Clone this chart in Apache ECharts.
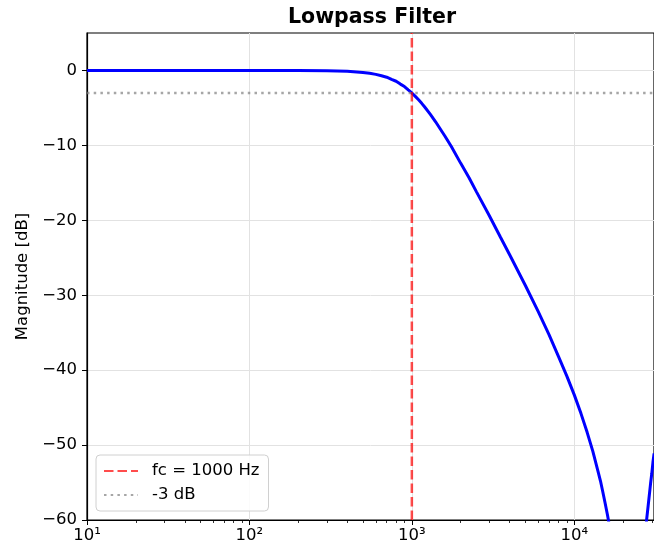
<!DOCTYPE html>
<html>
<head>
<meta charset="utf-8">
<script src="https://cdn.jsdelivr.net/npm/echarts@6/dist/echarts.min.js"></script>
<style>
html,body{margin:0;padding:0;background:#fff;}
#chart{width:654px;height:551px;}
</style>
</head>
<body>
<div id="chart"></div>
<script>
// ---- data ----
const freqHz = [10, 50, 100, 200, 300, 400, 500, 550, 600, 650, 700, 750, 800, 850, 900, 950, 1000, 1050, 1100, 1150, 1200, 1300, 1400, 1500, 1600, 1750, 2000, 2250, 2500, 3000, 3500, 4000, 5000, 6000, 7000, 8000, 9000, 10000, 11000, 12000, 13000, 14000, 14500, 15000, 15500, 16000, 16250, 16500, 17000, 18000, 27000, 28000, 28500, 29000, 29500, 30000, 30500, 31000];
const magDb  = [0, 0, 0, -0.01, -0.03, -0.11, -0.26, -0.38, -0.52, -0.71, -0.9, -1.19, -1.44, -1.82, -2.15, -2.59, -3.0, -3.46, -3.92, -4.39, -4.88, -5.86, -6.85, -7.85, -8.78, -10.16, -12.4, -14.33, -16.2, -19.4, -22.2, -24.6, -28.7, -32.2, -35.3, -38.2, -40.8, -43.3, -45.8, -48.3, -50.8, -53.5, -54.8, -56.3, -57.8, -59.3, -60.1, -61.0, -62.6, -66.6, -62.9, -59.6, -58.1, -56.6, -55.1, -53.8, -52.3, -51.1];
const cutoffHz = 1000;
const cutoffLevelDb = -3;
const xMin = 10, xMax = 30960;
const yMin = -60, yMax = 5;
const xMajorTicks = [10, 100, 1000, 10000];
const xMajorLabels = ['10\u00B9', '10\u00B2', '10\u00B3', '10\u2074'];
const xMinorTicks = [20,30,40,50,60,70,80,90,200,300,400,500,600,700,800,900,2000,3000,4000,5000,6000,7000,8000,9000,20000,30000];
const yTicks = [-60, -50, -40, -30, -20, -10, 0];
const titleText = 'Lowpass Filter';
const yLabel = 'Magnitude [dB]';
const legendFc = 'fc = 1000 Hz';
const legend3db = '-3 dB';

const FONT = 'DejaVu Sans';
const chart = echarts.init(document.getElementById('chart'), null, {renderer: 'canvas'});

const curve = freqHz.map((f, i) => [f, magDb[i]]);
const xLabelMap = {};
xMajorTicks.forEach((v, i) => { xLabelMap[v] = xMajorLabels[i]; });

chart.setOption({
  animation: false,
  backgroundColor: '#ffffff',
  title: {
    text: titleText,
    left: 367,
    textAlign: 'center',
    top: 2,
    textStyle: {fontFamily: FONT, fontWeight: 'bold', fontSize: 20.5, color: '#000'}
  },
  grid: {
    left: 87, top: 33, right: -2, bottom: 31,
    show: true, borderColor: '#000', borderWidth: 1.2, backgroundColor: 'transparent'
  },
  legend: {
    data: [legendFc, legend3db],
    orient: 'vertical',
    left: 96, top: 455,
    padding: [7.5, 9, 7.5, 7],
    itemGap: 7,
    itemWidth: 34, itemHeight: 14,
    itemStyle: {opacity: 0},
    backgroundColor: 'rgba(255,255,255,0.85)',
    borderColor: '#d0d0d0', borderWidth: 1, borderRadius: 4,
    textStyle: {
      fontFamily: FONT, fontSize: 16.5, color: '#000', lineHeight: 14,
      padding: [0, 0, 0, 9], backgroundColor: 'rgba(255,255,255,0)'
    }
  },
  xAxis: [{
    type: 'log', min: xMin, max: xMax, logBase: 10,
    position: 'bottom',
    axisLine: {show: true, onZero: false, lineStyle: {color: '#000', width: 1.2}},
    axisTick: {show: true, inside: false, length: 5, customValues: xMajorTicks, lineStyle: {color: '#000', width: 1}},
    axisLabel: {
      show: true, margin: 7, customValues: xMajorTicks,
      fontFamily: FONT, fontSize: 16.5, color: '#000',
      formatter: v => xLabelMap[Math.round(v)] || ''
    },
    splitLine: {show: true, lineStyle: {color: '#e2e2e2', width: 1}},
    minorTick: {show: false}
  }, {
    type: 'log', min: xMin, max: xMax, logBase: 10,
    position: 'bottom', gridIndex: 0,
    axisLine: {show: false, onZero: false},
    axisTick: {show: true, inside: false, length: 3, customValues: xMinorTicks, lineStyle: {color: '#000', width: 0.8}},
    axisLabel: {show: false},
    splitLine: {show: false}
  }],
  yAxis: {
    type: 'value', min: yMin, max: yMax, interval: 10,
    name: yLabel, nameLocation: 'middle', nameGap: 54, nameRotate: 90,
    nameTextStyle: {fontFamily: FONT, fontSize: 16.5, color: '#000'},
    axisLine: {show: true, onZero: false, lineStyle: {color: '#000', width: 1.2}},
    axisTick: {show: true, inside: false, length: 5, customValues: yTicks, lineStyle: {color: '#000', width: 1}},
    axisLabel: {
      show: true, margin: 10, customValues: yTicks,
      fontFamily: FONT, fontSize: 16.5, color: '#000',
      formatter: v => (v < 0 ? '\u2212' : '') + Math.abs(v)
    },
    splitLine: {show: true, lineStyle: {color: '#e2e2e2', width: 1}}
  },
  series: [{
    name: 'response',
    type: 'line',
    xAxisIndex: 0,
    data: curve,
    showSymbol: false, symbol: 'none',
    clip: true,
    lineStyle: {color: '#0000ff', width: 3},
    z: 3
  }, {
    name: legendFc,
    type: 'line',
    xAxisIndex: 0,
    data: [[cutoffHz, yMin], [cutoffHz, yMax]],
    symbol: 'none',
    clip: true,
    itemStyle: {color: 'rgba(255,0,0,0.7)'},
    lineStyle: {color: 'rgba(255,0,0,0.7)', width: 2.5, type: [9.5, 4]},
    z: 4
  }, {
    name: legend3db,
    type: 'line',
    xAxisIndex: 0,
    data: [[xMin, cutoffLevelDb], [xMax, cutoffLevelDb]],
    symbol: 'none',
    clip: true,
    itemStyle: {color: 'rgba(128,128,128,0.7)'},
    lineStyle: {color: 'rgba(128,128,128,0.7)', width: 2.5, type: [2.5, 4.2]},
    z: 4
  }]
});
</script>
</body>
</html>
